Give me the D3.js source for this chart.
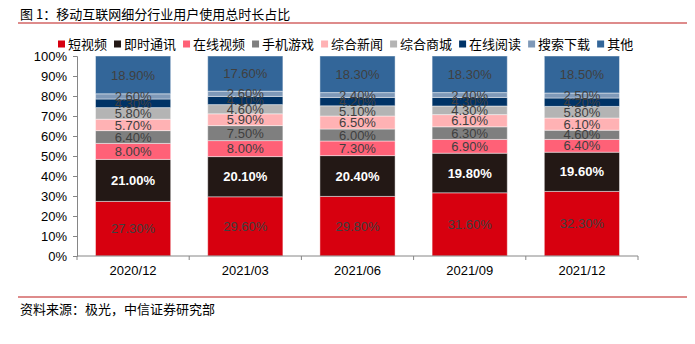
<!DOCTYPE html>
<html>
<head>
<meta charset="utf-8">
<script src="https://cdn.jsdelivr.net/npm/d3@7"></script>
<style>
  html, body { margin: 0; padding: 0; background: #fff; }
  svg { display: block; }
</style>
</head>
<body>
<svg id="chart" width="695" height="344"></svg>
<script>
const categories = ["2020/12", "2021/03", "2021/06", "2021/09", "2021/12"];
const seriesNames = ["短视频", "即时通讯", "在线视频", "手机游戏", "综合新闻", "综合商城", "在线阅读", "搜索下载", "其他"];
const shortVideo   = [27.3, 29.6, 29.8, 31.6, 32.3];
const instantMsg   = [21.0, 20.1, 20.4, 19.8, 19.6];
const onlineVideo  = [8.0, 8.0, 7.3, 6.9, 6.4];
const mobileGames  = [6.4, 7.5, 6.0, 6.3, 4.6];
const news         = [5.7, 5.9, 6.5, 6.1, 6.1];
const mall         = [5.8, 4.6, 5.1, 4.3, 5.8];
const reading      = [4.3, 4.1, 4.2, 4.3, 4.2];
const searchDl     = [2.6, 2.6, 2.4, 2.4, 2.5];
const others       = [18.9, 17.6, 18.3, 18.3, 18.5];
const yTicks = [0, 10, 20, 30, 40, 50, 60, 70, 80, 90, 100];
const titleText = "图 1：移动互联网细分行业用户使用总时长占比";
const sourceText = "资料来源：极光，中信证券研究部";

const seriesValues = [shortVideo, instantMsg, onlineVideo, mobileGames, news, mall, reading, searchDl, others];
const colors = ["#D7000F", "#231815", "#FF6177", "#7F7F7F", "#FFB2B4", "#B4B4B4", "#003366", "#7F99B8", "#336699"];

const rows = categories.map((c, i) => {
  const r = { cat: c };
  seriesNames.forEach((s, j) => r[s] = seriesValues[j][i]);
  return r;
});
const stacked = d3.stack().keys(seriesNames)(rows);

const svg = d3.select("#chart");
const cjk = "'Noto Sans CJK SC', 'Noto Sans', sans-serif";
const latin = "'Liberation Sans', Arial, sans-serif";

// Title
svg.append("text").attr("x", 20).attr("y", 19)
  .attr("font-family", cjk).attr("font-size", 13).attr("fill", "#000")
  .text(titleText);
svg.append("line").attr("x1", 18).attr("x2", 687).attr("y1", 23).attr("y2", 23)
  .attr("stroke", "#DE8B8B").attr("stroke-width", 1.8);

// Scales
const x = d3.scaleBand().domain(categories).range([77, 638]).paddingInner(0.33).paddingOuter(0.165);
const y = d3.scaleLinear().domain([0, 100]).range([256, 56]);

// Bars
const g = svg.append("g");
stacked.forEach((layer, j) => {
  g.selectAll(null).data(layer).enter().append("rect")
    .attr("x", d => x(d.data.cat))
    .attr("width", x.bandwidth())
    .attr("y", d => y(d[1]))
    .attr("height", d => y(d[0]) - y(d[1]))
    .attr("fill", colors[j])
    .attr("stroke", "rgba(255,255,255,0.45)")
    .attr("stroke-width", 1);
});

// Labels
stacked.forEach((layer, j) => {
  g.selectAll(null).data(layer).enter().append("text")
    .attr("x", d => x(d.data.cat) + x.bandwidth() / 2)
    .attr("y", d => (y(d[0]) + y(d[1])) / 2)
    .attr("dy", "0.36em")
    .attr("text-anchor", "middle")
    .attr("font-family", latin)
    .attr("font-size", 13)
    .attr("font-weight", j === 1 ? "bold" : "normal")
    .attr("fill", j === 1 ? "#ffffff" : "#404040")
    .text(d => (d[1] - d[0]).toFixed(2) + "%");
});

// Y axis
const yAxis = svg.append("g").attr("transform", "translate(77,0)")
  .call(d3.axisLeft(y).tickValues(yTicks).tickSize(4).tickFormat(d => d + "%"));
yAxis.select(".domain").attr("stroke", "#868686");
yAxis.selectAll(".tick line").attr("stroke", "#868686");
yAxis.selectAll(".tick text").attr("font-family", latin).attr("font-size", 13).attr("fill", "#000").attr("x", -10);

// X axis
const xAxis = svg.append("g").attr("transform", "translate(0,256)")
  .call(d3.axisBottom(x).tickSize(0).tickPadding(10));
xAxis.select(".domain").attr("stroke", "#868686").attr("d", "M77,0H638");
xAxis.selectAll(".tick text").attr("font-family", latin).attr("font-size", 13).attr("fill", "#000");
const bounds = d3.range(categories.length + 1).map(i => x.range()[0] + i * x.step());
xAxis.selectAll(".bt").data(bounds).enter().append("line")
  .attr("x1", d => d).attr("x2", d => d).attr("y1", 0).attr("y2", 4)
  .attr("stroke", "#868686");

// Legend
const lg = svg.append("g").attr("transform", "translate(58,44)");
let lx = 0;
seriesNames.forEach((s, j) => {
  lg.append("rect").attr("x", lx).attr("y", -3.5).attr("width", 7).attr("height", 7).attr("fill", colors[j]);
  const t = lg.append("text").attr("x", lx + 10).attr("y", 0).attr("dy", "0.36em")
    .attr("font-family", cjk).attr("font-size", 13).attr("fill", "#000").text(s);
  lx += 10 + t.node().getComputedTextLength() + 7;
});

// Footer
svg.append("line").attr("x1", 18).attr("x2", 687).attr("y1", 297).attr("y2", 297)
  .attr("stroke", "#DE8B8B").attr("stroke-width", 1.8);
svg.append("text").attr("x", 20).attr("y", 314)
  .attr("font-family", cjk).attr("font-size", 13).attr("fill", "#000")
  .text(sourceText);
</script>
</body>
</html>
